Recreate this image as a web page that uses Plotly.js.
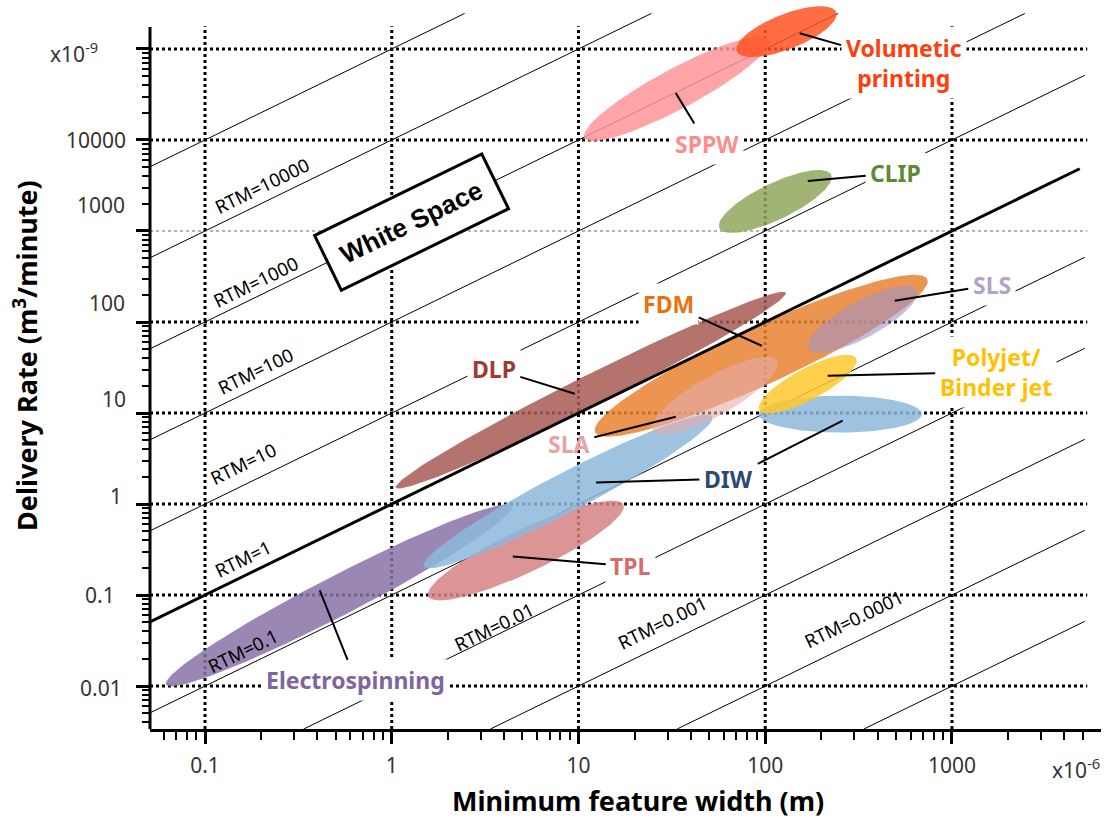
<!DOCTYPE html>
<html><head><meta charset="utf-8">
<script src="https://cdn.plot.ly/plotly-3.0.1.min.js"></script>
<style>html,body{margin:0;padding:0;background:#fff;}#chart{width:1104px;height:818px;}</style>
</head><body><div id="chart"></div>
<script>
// ---------------- data ----------------
const techNames   = ['Electrospinning','TPL','DIW','FDM','DLP','SLA','SLS','DIW (wide)','Polyjet/Binder jet','CLIP','SPPW','Volumetric printing'];
const widthMin    = [0.0617, 1.56, 1.48, 12.2, 1.05, 24.7, 169, 92.3, 92.3, 56.4, 10.7, 70];      // x1e-6 m
const widthMax    = [4.39, 17.5, 52.3, 741, 128.8, 116.7, 655, 689, 309, 227, 105.7, 241];
const rateMin     = [0.00994, 0.0873, 0.196, 5.5, 1.48, 5.79, 45.9, 6.09, 9.84, 953, 9730, 81300]; // x1e-9 m3/min
const rateMax     = [0.987, 1.09, 9.6, 330, 214.6, 41.5, 250, 15.5, 43.7, 4680, 138000, 295000];
const correlation = [0.969, 0.88, 0.958, 0.92, 0.985, 0.82, 0.79, 0.0, 0.8, 0.77, 0.9, 0.68];
const fillColors  = ['rgba(137,114,167,0.85)','rgba(214,131,131,0.85)','rgba(140,184,220,0.85)','rgba(231,131,49,0.85)',
                     'rgba(167,90,84,0.85)','rgba(230,172,172,0.6)','rgba(163,147,197,0.6)','rgba(140,184,220,0.85)',
                     'rgba(255,200,43,0.85)','rgba(143,167,90,0.85)','rgba(255,149,153,0.85)','rgba(255,84,37,0.85)'];

const rtmValues = [1e-5, 1e-4, 1e-3, 1e-2, 0.1, 1, 10, 100, 1000, 10000, 100000];
const rtmLabelText = ['RTM=10000','RTM=1000','RTM=100','RTM=10','RTM=1','RTM=0.1','RTM=0.01','RTM=0.001','RTM=0.0001'];
const rtmLabelX = [0.201, 0.187, 0.187, 0.159, 0.159, 0.159, 3.52, 27.9, 297.8];
const rtmLabelY = [3125, 276, 29.2, 2.78, 0.252, 0.0247, 0.0453, 0.0501, 0.0555];

const labelText  = ['Volumetic<br>printing','SPPW','CLIP','SLS','FDM','Polyjet/<br>Binder jet','DLP','SLA','DIW','DIW','TPL','Electrospinning'];
const labelColor = ['#FF3D0D','#FF8C8C','#5A8A32','#B3A2CC','#E8730C','#FFC000','#A03A36','#E8A3A3','#2B4A6F','#2B4A6F','#D66B6B','#8064A2'];
const labelX     = [551, 48.6, 500, 1633, 30.4, 1715, 3.52, 8.87, 63.8, 63.8, 19.05, 0.642];
const labelY     = [69850, 9016, 4339, 256, 158.5, 28.4, 30.7, 4.61, 1.905, 1.905, 0.206, 0.01157];
const pointX     = [153, 33.2, 169, 494, 95.8, 216, 9.55, 33.2, 12.4, 260, 4.45, 0.4116];
const pointY     = [149000, 32730, 3544, 171, 54.8, 25.7, 16.3, 9.12, 1.72, 8.24, 0.265, 0.1125];

const xTickVals = [0.1, 1, 10, 100, 1000];
const xTickText = ['0.1', '1', '10', '100', '1000'];
const yTickVals = [0.01, 0.1, 1, 10, 100, 1000, 10000, 100000];
const yTickText = ['0.01', '0.1', '1', '10', '100', '1000', '10000', 'x10<sup>-9</sup>'];

// ---------------- layout constants ----------------
const X_LO = -1.2945, X_HI = 3.798, Y_LO = -2.4718, Y_HI = 5.505;
const yLabelShift = [-2, 0, 8, 14, 19, 26, 0, -4];
const yLabelRight = [124, 117, 124, 128, 127, 127, 128, 100];
const labelBg = ['#fff','#fff','#fff','#fff','#fff','#fff','#fff','rgba(0,0,0,0)','#fff','#fff','#fff','#fff'];
const FONT = 'Noto Sans, Open Sans, sans-serif';
const lg = Math.log10;

// ---------------- traces ----------------
const traces = [];
const xLow = Math.pow(10, X_LO), yLow = Math.pow(10, Y_LO);
const lineXMax = 5140, lineYMax = Math.pow(10, 5.39);
function seg(r, xmax) {
  const xa = Math.max(xLow, yLow / r), xb = Math.min(xmax, lineYMax / r);
  return [[xa, xb], [r * xa, r * xb]];
}
const thinX = [], thinY = [];
rtmValues.forEach(r => { if (r === 1) return; const s = seg(r, lineXMax); thinX.push(s[0][0], s[0][1], null); thinY.push(s[1][0], s[1][1], null); });
traces.push({x: thinX, y: thinY, mode: 'lines', line: {color: '#000', width: 1}, hoverinfo: 'skip', showlegend: false});

for (let i = 0; i < techNames.length; i++) {
  const lu = (lg(widthMin[i]) + lg(widthMax[i])) / 2, hu = (lg(widthMax[i]) - lg(widthMin[i])) / 2;
  const lv = (lg(rateMin[i]) + lg(rateMax[i])) / 2, hv = (lg(rateMax[i]) - lg(rateMin[i])) / 2;
  const phi = Math.acos(correlation[i]);
  const xs = [], ys = [];
  for (let k = 0; k <= 180; k++) {
    const t = 2 * Math.PI * k / 180;
    xs.push(Math.pow(10, lu + hu * Math.cos(t)));
    ys.push(Math.pow(10, lv + hv * Math.cos(t - phi)));
  }
  traces.push({x: xs, y: ys, mode: 'lines', fill: 'toself', fillcolor: fillColors[i], line: {width: 0, color: 'rgba(0,0,0,0)'},
               name: techNames[i], hoverinfo: 'name', showlegend: false});
}
const thick = seg(1, 4830);
traces.push({x: thick[0], y: thick[1], mode: 'lines', line: {color: '#000', width: 3}, hoverinfo: 'skip', showlegend: false});

// ---------------- shapes (grid) ----------------
const shapes = [];
const gridXEnd = 5300, gridYTop = Math.pow(10, 5.25);
yTickVals.forEach(v => {
  const thin = v === 1000;
  shapes.push({type: 'line', layer: 'below', xref: 'x', yref: 'y', x0: xLow, x1: gridXEnd, y0: v, y1: v,
    line: {color: thin ? '#666' : '#000', width: thin ? 1 : 3, dash: 'dot'}});
});
xTickVals.forEach(v => {
  shapes.push({type: 'line', layer: 'below', xref: 'x', yref: 'y', x0: v, x1: v, y0: yLow, y1: gridYTop,
    line: {color: '#000', width: 3, dash: 'dot'}});
});
// y axis line
shapes.push({type: 'line', layer: 'above', xref: 'paper', yref: 'y', x0: 0, x1: 0, y0: yLow, y1: Math.pow(10, 5.24),
  line: {color: '#000', width: 3}});

// ---------------- annotations ----------------
const annotations = [];
yTickVals.forEach((v, i) => {
  annotations.push({xref: 'paper', yref: 'y', x: 0, y: lg(v), xanchor: 'right', yanchor: 'middle',
    xshift: -(150 - yLabelRight[i]), yshift: yLabelShift[i], showarrow: false, text: yTickText[i],
    font: {family: FONT, size: 21, color: '#333'}});
});
annotations.push({xref: 'paper', yref: 'paper', x: (1076 - 150) / 951, y: (729 - 768) / 726, xanchor: 'center', yanchor: 'middle',
  showarrow: false, text: 'x10<sup>-6</sup>', font: {family: FONT, size: 21, color: '#333'}});
rtmLabelText.forEach((t, i) => {
  annotations.push({xref: 'x', yref: 'y', x: lg(rtmLabelX[i]), y: lg(rtmLabelY[i]), showarrow: false, text: t, textangle: -26,
    font: {family: FONT, size: 18.5, color: '#000'}});
});
labelText.forEach((t, i) => {
  annotations.push({xref: 'x', yref: 'y', axref: 'x', ayref: 'y', x: lg(pointX[i]), y: lg(pointY[i]),
    ax: lg(labelX[i]), ay: lg(labelY[i]), showarrow: true, arrowhead: 0, arrowwidth: 2, arrowcolor: '#000',
    text: '<b>' + t + '</b>', bgcolor: labelBg[i], borderpad: 4, font: {family: FONT, size: 23, color: labelColor[i]}});
});
annotations.push({xref: 'x', yref: 'y', x: lg(1.28), y: lg(1258), showarrow: false, text: '<b>White Space</b>', textangle: -26,
  bgcolor: '#fff', bordercolor: '#000', borderwidth: 3, borderpad: 14,
  font: {family: 'Liberation Sans, Arial, sans-serif', size: 26, color: '#000'}});
annotations.push({xref: 'paper', yref: 'paper', x: (638 - 150) / 951, y: (729 - 800) / 726, xanchor: 'center', yanchor: 'middle',
  showarrow: false, text: '<b>Minimum feature width (m)</b>', font: {family: FONT, size: 27, color: '#000'}});
annotations.push({xref: 'paper', yref: 'paper', x: (25 - 150) / 951, y: (729 - 356) / 726, xanchor: 'center', yanchor: 'middle',
  showarrow: false, textangle: -90, text: '<b>Delivery Rate (m<sup>3</sup>/minute)</b>', font: {family: FONT, size: 27, color: '#000'}});

// minor ticks
const xMinor = [], yMinor = [];
for (let d = -3; d <= 4; d++) for (let k = 2; k <= 9; k++) {
  const v = k * Math.pow(10, d);
  if (v > xLow && v <= 5000) xMinor.push(v);
  if (v > yLow && v < 100000) yMinor.push(v);
}

const layout = {
  width: 1104, height: 818, margin: {l: 150, r: 3, t: 3, b: 89},
  paper_bgcolor: '#fff', plot_bgcolor: '#fff', showlegend: false,
  xaxis: {type: 'log', range: [X_LO, X_HI], showgrid: false, zeroline: false, showline: true, linewidth: 3, linecolor: '#000',
    ticks: 'outside', ticklen: 12, tickwidth: 3, tickcolor: '#000', tickmode: 'array', tickvals: xTickVals, ticktext: xTickText,
    tickfont: {family: FONT, size: 21, color: '#333'}, ticklabelstandoff: 4, automargin: false,
    minor: {ticks: 'outside', ticklen: 8, tickwidth: 2, tickcolor: '#000', tickmode: 'array', tickvals: xMinor, showgrid: false}},
  yaxis: {type: 'log', range: [Y_LO, Y_HI], showgrid: false, zeroline: false, showline: false,
    ticks: 'outside', ticklen: 13, tickwidth: 3, tickcolor: '#000', tickmode: 'array', tickvals: yTickVals, showticklabels: false,
    automargin: false,
    minor: {ticks: 'outside', ticklen: 7, tickwidth: 2, tickcolor: '#000', tickmode: 'array', tickvals: yMinor, showgrid: false}},
  shapes: shapes, annotations: annotations
};
Plotly.newPlot('chart', traces, layout, {displayModeBar: false, staticPlot: true});
</script></body></html>
